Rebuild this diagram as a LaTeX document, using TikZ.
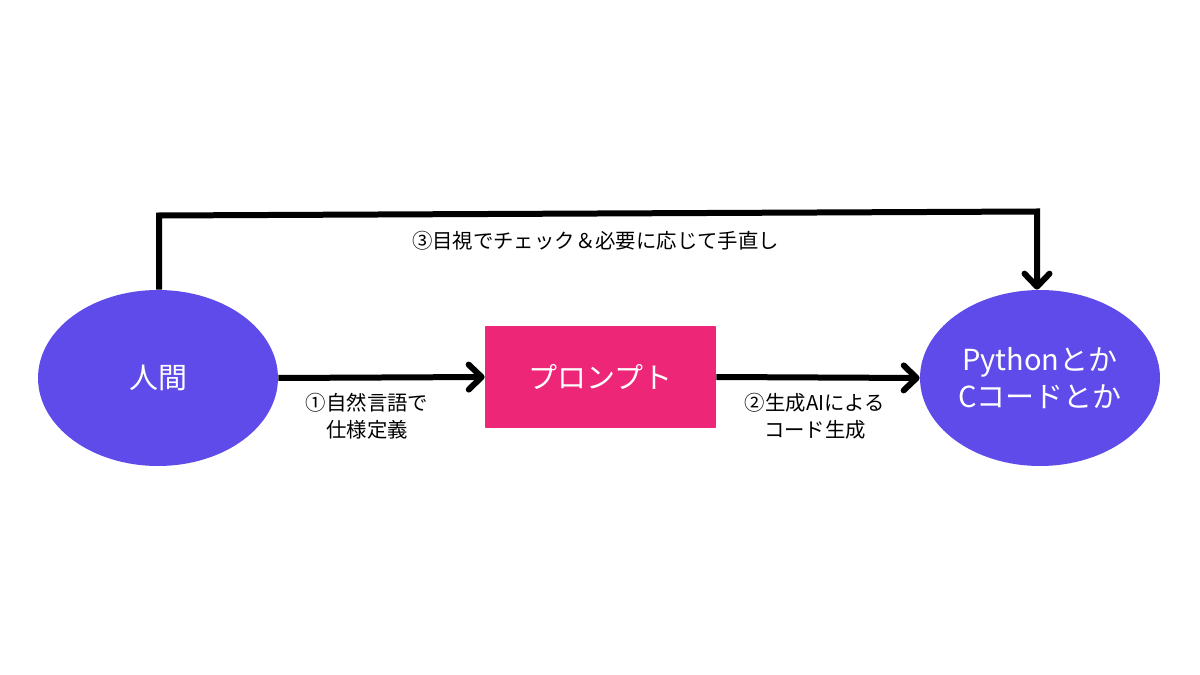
\documentclass[tikz,border=0pt]{standalone}
\usepackage{fontspec}
\setmainfont{Noto Sans CJK JP}
\usetikzlibrary{arrows.meta,shapes.geometric}
\definecolor{purp}{HTML}{5F4BEA}
\definecolor{pinkc}{HTML}{EE2677}
\tikzset{
  blob/.style={ellipse, fill=purp, draw=none, minimum width=4.8cm, minimum height=3.52cm, text=white, font=\fontsize{16.5pt}{21pt}\selectfont, align=center, inner sep=0pt},
  boxnode/.style={rectangle, fill=pinkc, draw=none, minimum width=4.62cm, minimum height=2.04cm, text=white, font=\fontsize{16.5pt}{21pt}\selectfont, inner sep=0pt, rounded corners=0.5pt},
  conn/.style={line width=0.12cm, -{Straight Barb[length=0.26cm, width=0.5cm, round]}},
  lbl/.style={font=\fontsize{11.6pt}{15.5pt}\selectfont, align=center, text=black, inner sep=0pt}
}
\begin{document}
\begin{tikzpicture}[x=0.02cm,y=-0.02cm]
\useasboundingbox (0,0) rectangle (1200,675);
\fill[white] (0,0) rectangle (1200,675);
\node[blob] (human) at (158,378) {人間};
\node[boxnode] (prompt) at (600.5,377) {プロンプト};
\node[blob] (code) at (1040,378) {Pythonとか\\Cコードとか};
\coordinate (c1) at (159,215.5);
\coordinate (c2) at (1037,211.5);
\draw[conn] (human.east) -- (prompt.west);
\draw[conn] (prompt.east) -- (code.west);
\draw[conn, line join=miter] (human.north -| c1) -- (c1) -- (c2) -- (code.north -| c2);
\node[lbl] (l1) at (367,416) {①自然言語で\\仕様定義};
\node[lbl] (l2) at (815,416) {②生成AIによる\\コード生成};
\node[lbl] (l3) at (595.5,241) {③目視でチェック＆必要に応じて手直し};
\end{tikzpicture}
\end{document}
